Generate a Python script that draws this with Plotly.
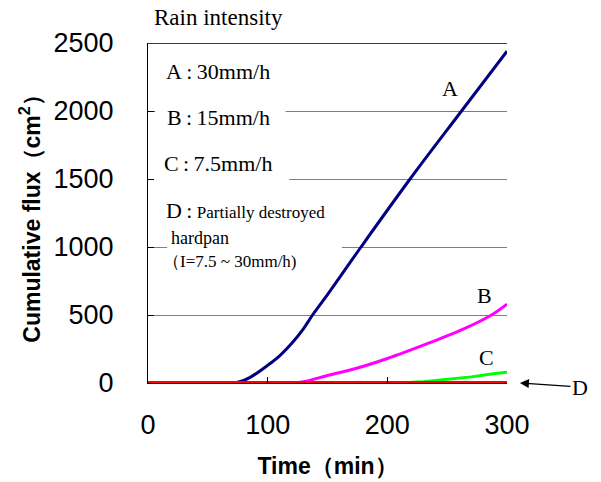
import plotly.graph_objects as go

# Data
time_a = [0, 68, 75, 85, 100, 110, 120, 130, 137.5, 150, 178, 219, 262, 300]
flux_a = [0, 0, 5, 40, 130, 200, 290, 400, 500, 650, 1000, 1500, 2000, 2440]

time_b = [0, 115, 130, 150, 175, 200, 235, 262, 287, 300]
flux_b = [0, 0, 10, 55, 110, 180, 295, 390, 500, 580]

time_c = [0, 210, 230, 250, 270, 290, 300]
flux_c = [0, 0, 10, 25, 45, 70, 80]

time_d = [0, 300]
flux_d = [0, 0]

y_ticks = [0, 500, 1000, 1500, 2000, 2500]
x_ticks = [0, 100, 200, 300]

serif = "Liberation Serif"

fig = go.Figure()
fig.add_trace(go.Scatter(x=time_a, y=flux_a, mode="lines", line=dict(color="#000080", width=3), line_shape="spline"))
fig.add_trace(go.Scatter(x=time_b, y=flux_b, mode="lines", line=dict(color="#FF00FF", width=3), line_shape="spline"))
fig.add_trace(go.Scatter(x=time_c, y=flux_c, mode="lines", line=dict(color="#00FF00", width=3)))
fig.add_trace(go.Scatter(x=time_d, y=flux_d, mode="lines", line=dict(color="#FF0000", width=4)))

# white masks interrupting gridlines behind the legend text
masks = [(6, 115, 1950, 2050), (1, 118, 1450, 1550), (16, 162, 950, 1050)]
shapes = []
for x0, x1, y0, y1 in masks:
    shapes.append(dict(type="rect", xref="x", yref="y", x0=x0, x1=x1, y0=y0, y1=y1,
                       fillcolor="white", line=dict(width=0), layer="between"))
shapes.append(dict(type="line", xref="paper", yref="y", x0=0, x1=1, y0=2500, y1=2500,
                   line=dict(color="black", width=1.5)))

anns = [
    dict(text="Rain intensity", xref="paper", yref="paper", x=0.01, y=1.075, xanchor="left", yanchor="middle",
         font=dict(family=serif, size=23)),
    dict(text="A\u2009:\u200930mm/h", xref="paper", yref="y", x=0.045, y=2287, xanchor="left", yanchor="middle",
         font=dict(family=serif, size=22)),
    dict(text="B\u2009:\u200915mm/h", xref="paper", yref="y", x=0.047, y=1955, xanchor="left", yanchor="middle",
         font=dict(family=serif, size=22)),
    dict(text="C\u2009:\u20097.5mm/h", xref="paper", yref="y", x=0.04, y=1615, xanchor="left", yanchor="middle",
         font=dict(family=serif, size=22)),
    dict(text="D\u2009:\u2009<span style='font-size:17px'>Partially destroyed</span>", xref="paper", yref="y",
         x=0.045, y=1270, xanchor="left", yanchor="middle", font=dict(family=serif, size=22)),
    dict(text="hardpan", xref="paper", yref="y", x=0.058, y=1065, xanchor="left", yanchor="middle",
         font=dict(family=serif, size=18)),
    dict(text="（I=7.5 ~ 30mm/h)", xref="paper", yref="y", x=0.035, y=895, xanchor="left", yanchor="middle",
         font=dict(family=serif, size=17)),
    dict(text="A", x=252, y=2169, xanchor="center", yanchor="middle", showarrow=False, font=dict(family=serif, size=22)),
    dict(text="B", x=281, y=647, xanchor="center", yanchor="middle", showarrow=False, font=dict(family=serif, size=22)),
    dict(text="C", x=283, y=191, xanchor="center", yanchor="middle", showarrow=False, font=dict(family=serif, size=22)),
    dict(text="D", xref="paper", yref="y", x=1.036, y=0, ax=60, ay=4, showarrow=True, arrowhead=2,
         arrowsize=1.5, arrowwidth=1.2, arrowcolor="black", font=dict(family=serif, size=22)),
]
for a in anns:
    a.setdefault("showarrow", False)
    a.setdefault("xref", "x")
    a.setdefault("yref", "y")

fig.update_layout(
    width=601, height=482,
    margin=dict(l=148, r=94, t=43, b=99, autoexpand=False),
    paper_bgcolor="white", plot_bgcolor="white",
    showlegend=False,
    font=dict(family="Liberation Sans", color="black"),
    shapes=shapes, annotations=anns,
    xaxis=dict(range=[0, 300], tickvals=x_ticks, ticks="inside", ticklen=6, tickcolor="black",
               showgrid=False, zeroline=False, showline=True, linecolor="black", linewidth=1,
               tickfont=dict(size=27), ticklabelstandoff=18, automargin=False,
               title=dict(text="<b>Time（min）</b>", font=dict(size=23), standoff=18)),
    yaxis=dict(range=[0, 2500], tickvals=y_ticks, ticks="inside", ticklen=6, tickcolor="black",
               showgrid=True, gridcolor="#808080", gridwidth=1, zeroline=False,
               showline=True, linecolor="black", linewidth=1,
               tickfont=dict(size=27), ticklabelstandoff=28, automargin=False,
               title=dict(text="<b>Cumulative flux（cm<sup>2</sup>）</b>", font=dict(size=23), standoff=6)),
)
fig.write_html("out.html", config={"displayModeBar": False},
               post_script="document.body.style.margin='0';")
